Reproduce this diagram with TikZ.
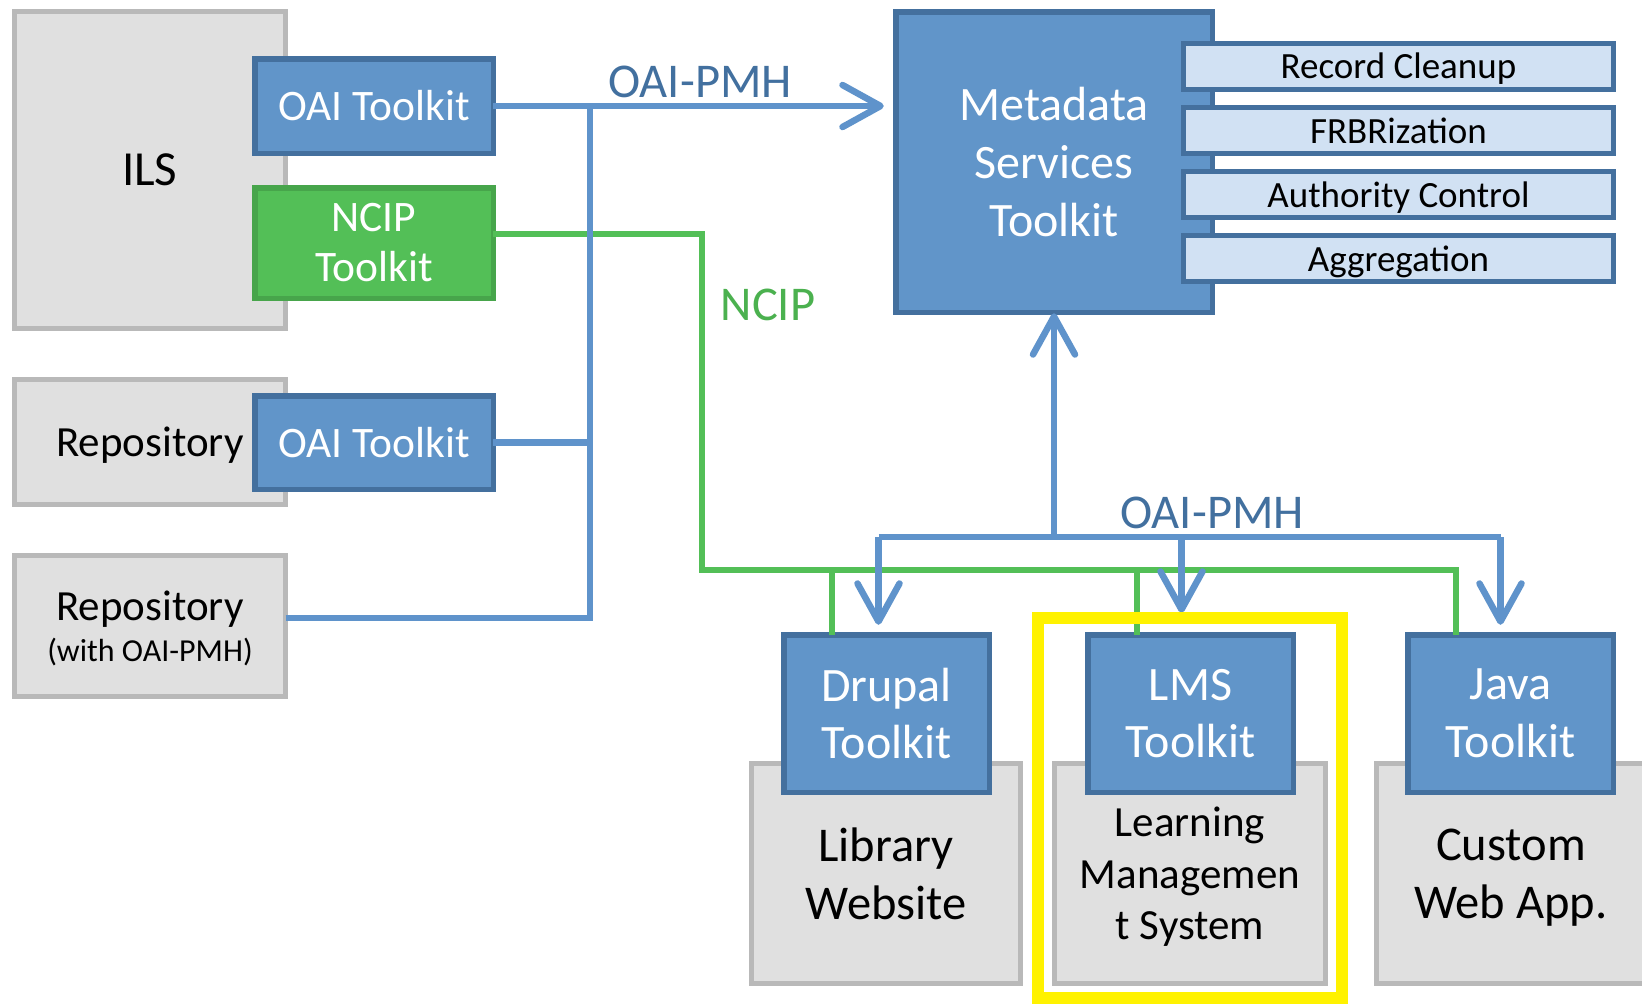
\documentclass[tikz,border=0pt]{standalone}
\usepackage{fontspec}
\setmainfont{Carlito}
\usetikzlibrary{arrows.meta,calc}
\definecolor{grayfill}{HTML}{E0E0E0}
\definecolor{grayline}{HTML}{B9B9B9}
\definecolor{bluefill}{HTML}{6195C9}
\definecolor{blueline}{HTML}{44709E}
\definecolor{greenfill}{HTML}{53BF57}
\definecolor{greenline}{HTML}{47A54B}
\definecolor{lightfill}{HTML}{D1E1F3}
\definecolor{conblue}{HTML}{5F93CB}
\definecolor{congreen}{HTML}{53BF57}
\definecolor{lblblue}{HTML}{42709F}
\definecolor{lblgreen}{HTML}{4BB14F}
\newcommand{\fs}[2]{\fontsize{#1}{#2}\selectfont}
\begin{document}
\begin{tikzpicture}[x=1pt,y=-1pt,
  box/.style={rectangle, inner sep=0pt, outer sep=0pt, align=center},
  graybox/.style={box, draw=grayline, fill=grayfill, line width=5pt, text=black, text depth=0pt},
  bluebox/.style={box, draw=blueline, fill=bluefill, line width=5.5pt, text=white},
  greenbox/.style={box, draw=greenline, fill=greenfill, line width=5.5pt, text=white},
  subbox/.style={box, draw=blueline, fill=lightfill, line width=5pt, text=black, text depth=0pt,
     minimum width=430, minimum height=46, font=\fs{37}{44}},
  kitbox/.style={bluebox, minimum width=205.5, minimum height=157.5, font=\fs{48}{57.6}},
  appbox/.style={graybox, minimum height=220, font=\fs{48.5}{57.6}},
  bluec/.style={draw=conblue, line width=6.5pt},
  greenc/.style={draw=congreen, line width=6pt},
  barb/.style={-{Straight Barb[length=38pt,width=42pt,round]}},
  lbl/.style={anchor=base, inner sep=0pt, font=\fs{48.5}{56}}
]
\useasboundingbox (0,0) rectangle (1642,1005);
\clip (0,0) rectangle (1642,1005);
\fill[white] (0,0) rectangle (1642,1005);

% gray system boxes
\node[graybox, minimum width=271.5, minimum height=317, font=\fs{49}{60}] (ils) at (149.75,170) {ILS};
\node[graybox, minimum width=271, minimum height=125, font=\fs{43}{50}] (repo1) at (150,442) {Repository};
\node[graybox, minimum width=271, minimum height=141, font=\fs{43}{41}] (repo2) at (150,626) {Repository\\{\fs{32}{41}(with OAI-PMH)}};
\node[appbox, minimum width=269] (libweb) at (886,873.5) {Library\\Website};
\node[appbox, minimum width=271, font=\fs{43}{51.5}] (lmsys) at (1190,873.5) {Learning\\Managemen\\t System};
\node[appbox, minimum width=269] (custom) at (1511,873.5) {Custom\\Web App.};

% toolkit boxes
\node[bluebox, minimum width=238.5, minimum height=94.5, font=\fs{43.5}{50}] (oai1) at (374,106) {OAI Toolkit};
\node[greenbox, minimum width=238.5, minimum height=110.5, font=\fs{43.5}{50}] (ncip) at (374,243) {NCIP\\Toolkit};
\node[bluebox, minimum width=238.5, minimum height=93.5, font=\fs{43.5}{50}] (oai2) at (374,442.5) {OAI Toolkit};
\node[bluebox, minimum width=316.5, minimum height=300.5, font=\fs{48}{57.6}] (mst) at (1054,162) {Metadata\\Services\\Toolkit};
\node[subbox] (rc) at (1398.5,66) {Record Cleanup};
\node[subbox] (frbr) at (1398.5,130.5) {FRBRization};
\node[subbox] (auth) at (1398.5,194.5) {Authority Control};
\node[subbox] (aggr) at (1398.5,258.5) {Aggregation};
\node[kitbox] (drupal) at (886.5,713.5) {Drupal\\Toolkit};
\node[kitbox] (lms) at (1190.5,713.5) {LMS\\Toolkit};
\node[kitbox] (java) at (1510.5,713.5) {Java\\Toolkit};

% green NCIP connectors
\coordinate (g1) at (701.5,234);
\coordinate (g2) at (701.5,570);
\draw[greenc] ([yshift=9pt]ncip.east) -- (g1) -- (g2) -| ([xshift=48pt]java.north west);
\draw[greenc] ([xshift=48pt]drupal.north west) -- ([xshift=48pt]drupal.north west |- g2);
\draw[greenc] ([xshift=49pt]lms.north west) -- ([xshift=49pt]lms.north west |- g2);

% blue OAI-PMH harvest bus
\coordinate (bus) at (590,0);
\draw[bluec, barb, shorten >=12pt] (oai1.east) -- (oai1.east -| mst.west);
\draw[bluec] ([yshift=8pt]repo2.east) -- ([yshift=8pt]repo2.east -| bus) -- (oai1.east -| bus);
\draw[bluec] (oai2.east) -- (oai2.east -| bus);

% lower distribution bus
\coordinate (lb) at (1054,537);
\draw[bluec, barb, shorten >=1pt] (lb) -- (mst.south);
\draw[bluec] ([xshift=-8pt]drupal.north |- lb) -- ([xshift=-10pt]java.north |- lb);
\draw[bluec, barb, shorten >=10pt] ([xshift=-8pt]drupal.north |- lb) -- ([xshift=-8pt]drupal.north);
\draw[bluec, barb, shorten >=22pt] ([xshift=-9pt]lms.north |- lb) -- ([xshift=-9pt]lms.north);
\draw[bluec, barb, shorten >=10pt] ([xshift=-10pt]java.north |- lb) -- ([xshift=-10pt]java.north);

% labels
\node[lbl, text=lblblue] (l1) at (700,97) {OAI-PMH};
\node[lbl, text=lblgreen] (l2) at (768,320) {NCIP};
\node[lbl, text=lblblue] (l3) at (1212,528) {OAI-PMH};

% highlight
\node[draw=yellow, line width=12pt, inner sep=0pt, minimum width=303.5, minimum height=380] (hl) at (1189.75,807.5) {};
\end{tikzpicture}
\end{document}
